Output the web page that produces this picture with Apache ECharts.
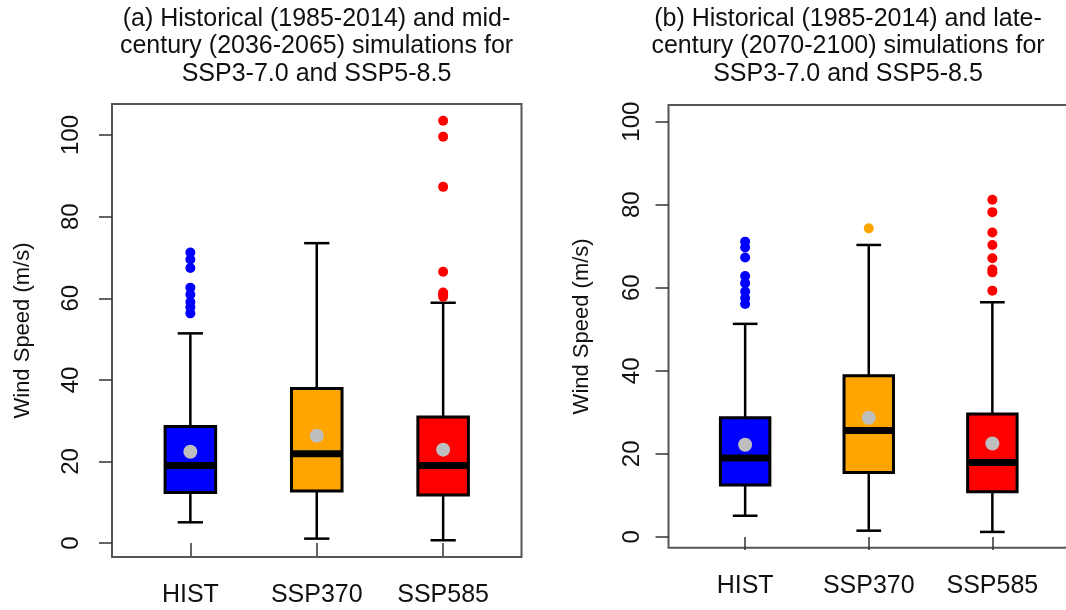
<!DOCTYPE html>
<html>
<head>
<meta charset="utf-8">
<script src="https://cdn.jsdelivr.net/npm/echarts@6/dist/echarts.min.js"></script>
<style>
  html, body { margin: 0; padding: 0; background: #fff; }
  #chart { width: 1066px; height: 610px; }
</style>
</head>
<body>
<div id="chart"></div>
<script>
const categories = ['HIST', 'SSP370', 'SSP585'];
const yTicks = [0, 20, 40, 60, 80, 100];

// (a) historical vs mid-century
const midLow = [5.1, 1.1, 0.7];
const midQ1 = [12.4, 12.8, 11.8];
const midMedian = [19.0, 21.9, 19.0];
const midQ3 = [28.6, 37.9, 30.9];
const midHigh = [51.4, 73.5, 58.9];
const midMean = [22.4, 26.3, 22.9];
const midOutHist = [56.3, 57.8, 59.1, 60.9, 62.6, 67.4, 69.5, 71.2];
const midOutSsp370 = [];
const midOutSsp585 = [60.4, 60.9, 61.4, 66.5, 87.3, 99.6, 103.5];

// (b) historical vs late-century
const lateLow = [5.1, 1.5, 1.2];
const lateQ1 = [12.5, 15.5, 10.9];
const lateMedian = [19.0, 25.6, 17.9];
const lateQ3 = [28.7, 38.8, 29.6];
const lateHigh = [51.3, 70.3, 56.5];
const lateMean = [22.2, 28.7, 22.5];
const lateOutHist = [56.1, 57.5, 59.1, 61.1, 62.8, 67.3, 69.7, 71.1];
const lateOutSsp370 = [74.3];
const lateOutSsp585 = [59.3, 63.7, 64.4, 67.1, 70.3, 73.3, 78.2, 81.2];

const boxColors = ['#0000FF', '#FFA500', '#FF0000'];
const font = '"Liberation Sans", Arial, sans-serif';

function boxData(low, q1, med, q3, high) {
  return categories.map((c, i) => [i + 1, low[i], q1[i], med[i], q3[i], high[i]]);
}

function outlierData(lists) {
  const items = [];
  lists.forEach((list, i) => {
    list.forEach(v => items.push({ value: [i + 1, v], itemStyle: { color: boxColors[i] } }));
  });
  return items;
}

// R-style box: half-width staples, thick median
function renderBox(params, api) {
  const x = api.value(0);
  const half = api.size([0.2, 0])[0];
  const cap = half / 2;
  const pLow = api.coord([x, api.value(1)]);
  const pQ1 = api.coord([x, api.value(2)]);
  const pMed = api.coord([x, api.value(3)]);
  const pQ3 = api.coord([x, api.value(4)]);
  const pHigh = api.coord([x, api.value(5)]);
  const cx = pLow[0];
  const ln = { stroke: '#000', lineWidth: 2.5 };
  return {
    type: 'group',
    children: [
      { type: 'line', shape: { x1: cx, y1: pLow[1], x2: cx, y2: pQ1[1] }, style: ln },
      { type: 'line', shape: { x1: cx, y1: pQ3[1], x2: cx, y2: pHigh[1] }, style: ln },
      { type: 'line', shape: { x1: cx - cap, y1: pLow[1], x2: cx + cap, y2: pLow[1] }, style: ln },
      { type: 'line', shape: { x1: cx - cap, y1: pHigh[1], x2: cx + cap, y2: pHigh[1] }, style: ln },
      {
        type: 'rect',
        shape: { x: cx - half, y: pQ3[1], width: half * 2, height: pQ1[1] - pQ3[1] },
        style: { fill: boxColors[params.dataIndex], stroke: '#000', lineWidth: 3 }
      },
      { type: 'line', shape: { x1: cx - half, y1: pMed[1], x2: cx + half, y2: pMed[1] }, style: { stroke: '#000', lineWidth: 7 } }
    ]
  };
}

function xAxisFor(gridIndex) {
  return {
    type: 'value', gridIndex: gridIndex, min: 0.38, max: 3.62,
    axisLine: { show: false },
    splitLine: { show: false },
    axisTick: { show: true, customValues: [1, 2, 3], length: 13, lineStyle: { color: '#333', width: 1.5 } },
    axisLabel: {
      customValues: [1, 2, 3],
      formatter: v => categories[Math.round(v) - 1],
      fontSize: 25, margin: 26, color: '#111', fontFamily: font
    }
  };
}

function yAxisFor(gridIndex, min, max, labelMargin, nameGap) {
  return {
    type: 'value', gridIndex: gridIndex, min: min, max: max,
    axisLine: { show: false },
    splitLine: { show: false },
    axisTick: { show: true, customValues: yTicks, length: 13, lineStyle: { color: '#333', width: 1.5 } },
    axisLabel: { customValues: yTicks, rotate: 90, fontSize: 24, margin: labelMargin, color: '#111', fontFamily: font },
    name: 'Wind Speed (m/s)',
    nameLocation: 'middle',
    nameRotate: 90,
    nameGap: nameGap,
    nameTextStyle: { fontSize: 22, color: '#111', fontFamily: font }
  };
}

function panelSeries(idx, low, q1, med, q3, high, mean, outliers) {
  return [
    {
      type: 'custom', xAxisIndex: idx, yAxisIndex: idx,
      renderItem: renderBox,
      encode: { x: 0, y: [1, 2, 3, 4, 5] },
      data: boxData(low, q1, med, q3, high),
      z: 2
    },
    {
      type: 'scatter', xAxisIndex: idx, yAxisIndex: idx,
      symbolSize: 14,
      itemStyle: { color: '#BEBEBE', opacity: 1 },
      data: categories.map((c, i) => [i + 1, mean[i]]),
      z: 4
    },
    {
      type: 'scatter', xAxisIndex: idx, yAxisIndex: idx,
      symbolSize: 10,
      itemStyle: { opacity: 1 },
      data: outlierData(outliers),
      z: 4
    }
  ];
}

const titleA = '(a) Historical (1985-2014) and mid-\ncentury (2036-2065) simulations for\nSSP3-7.0 and SSP5-8.5';
const titleB = '(b) Historical (1985-2014) and late-\ncentury (2070-2100) simulations for\nSSP3-7.0 and SSP5-8.5';

const chart = echarts.init(document.getElementById('chart'), null, { renderer: 'canvas' });
chart.setOption({
  animation: false,
  backgroundColor: '#fff',
  graphic: [
    { type: 'text', x: 316.5, y: 5, style: { text: titleA, textAlign: 'center', fill: '#111', font: '25px ' + font, lineHeight: 27.5 } },
    { type: 'text', x: 848, y: 5, style: { text: titleB, textAlign: 'center', fill: '#111', font: '25px ' + font, lineHeight: 27.5 } }
  ],
  grid: [
    { left: 112, top: 104, width: 409.5, height: 453, show: true, borderColor: '#555', borderWidth: 2, backgroundColor: 'transparent', outerBoundsMode: 'none' },
    { left: 668.5, top: 105, width: 400.5, height: 442.7, show: true, borderColor: '#555', borderWidth: 2, backgroundColor: 'transparent', outerBoundsMode: 'none' }
  ],
  xAxis: [xAxisFor(0), xAxisFor(1)],
  yAxis: [
    yAxisFor(0, -3.4, 107.6, 29, 78),
    yAxisFor(1, -2.6, 104.0, 24, 76)
  ],
  series: [
    ...panelSeries(0, midLow, midQ1, midMedian, midQ3, midHigh, midMean, [midOutHist, midOutSsp370, midOutSsp585]),
    ...panelSeries(1, lateLow, lateQ1, lateMedian, lateQ3, lateHigh, lateMean, [lateOutHist, lateOutSsp370, lateOutSsp585])
  ]
});
</script>
</body>
</html>
